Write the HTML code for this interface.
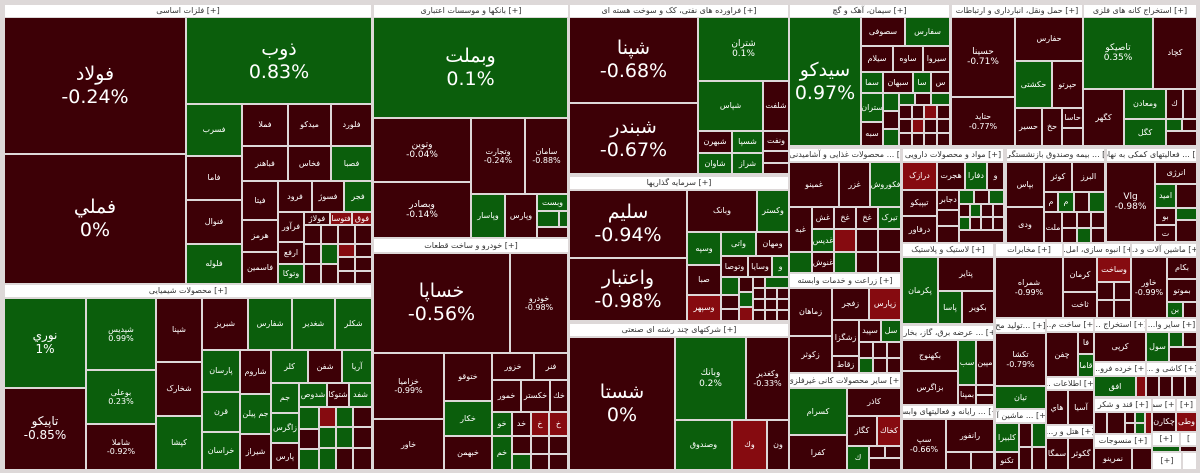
<!DOCTYPE html>
<html><head><meta charset="utf-8">
<style>
body{margin:0;width:1200px;height:473px;background:#fff;overflow:hidden}
#m{position:absolute;left:0;top:0;width:1200px;height:473px;background:#ddd8d8}
.t{position:absolute;box-sizing:border-box;border:1px solid #ddd8d8;color:#fff;display:flex;align-items:center;justify-content:center;text-align:center;font-family:"DejaVu Sans","Liberation Sans",sans-serif;font-size:8px;line-height:1.15;overflow:hidden;white-space:nowrap}
.r{background:#3d0006}.g{background:#0b5e0c}.b{background:#860b10}
.h{background:#fff;color:#333;font-size:8px;border:1px solid #ddd8d8}
.L{font-size:19px;line-height:1.2}.M{font-size:12px}.S{font-size:9px}
</style></head><body><div id="m">
<!-- sector 1 -->
<div class="t h" style="left:4px;top:4px;width:368px;height:14px">فلزات اساسی [+]</div>
<div class="t r L" style="left:4px;top:17px;width:182px;height:137px">فولاد<br>-0.24%</div>
<div class="t r L" style="left:4px;top:154px;width:182px;height:130px">فملي<br>0%</div>
<div class="t g L" style="left:186px;top:17px;width:186px;height:87px">ذوب<br>0.83%</div>
<div class="t g" style="left:186px;top:104px;width:56px;height:52px">فسرب</div>
<div class="t r" style="left:186px;top:156px;width:56px;height:44px">فاما</div>
<div class="t r" style="left:186px;top:200px;width:56px;height:44px">فنوال</div>
<div class="t g" style="left:186px;top:244px;width:56px;height:40px">فلوله</div>
<div class="t r" style="left:242px;top:104px;width:46px;height:42px">فملا</div>
<div class="t r" style="left:288px;top:104px;width:43px;height:42px">میدکو</div>
<div class="t r" style="left:331px;top:104px;width:41px;height:42px">فلورد</div>
<div class="t r" style="left:242px;top:146px;width:46px;height:35px">فباهنر</div>
<div class="t r" style="left:288px;top:146px;width:43px;height:35px">فخاس</div>
<div class="t g" style="left:331px;top:146px;width:41px;height:35px">فصبا</div>
<div class="t r" style="left:242px;top:181px;width:36px;height:39px">فیتا</div>
<div class="t r" style="left:278px;top:181px;width:34px;height:31px">فرود</div>
<div class="t r" style="left:312px;top:181px;width:32px;height:31px">فسوژ</div>
<div class="t g" style="left:344px;top:181px;width:28px;height:31px">فجر</div>
<div class="t r" style="left:242px;top:220px;width:36px;height:32px">هرمز</div>
<div class="t r" style="left:242px;top:252px;width:36px;height:32px">فاسمین</div>
<div class="t r" style="left:278px;top:212px;width:26px;height:30px">فرآور</div>
<div class="t r" style="left:304px;top:212px;width:26px;height:13px">فولاژ</div>
<div class="t b" style="left:330px;top:212px;width:22px;height:13px">فتوسا</div>
<div class="t b" style="left:352px;top:212px;width:20px;height:13px">فوق</div>
<div class="t r" style="left:278px;top:242px;width:26px;height:22px">ارفع</div>
<div class="t g" style="left:278px;top:264px;width:26px;height:20px">وتوکا</div>
<div class="t r" style="left:304px;top:225px;width:17px;height:19px"></div>
<div class="t r" style="left:304px;top:244px;width:17px;height:20px"></div>
<div class="t r" style="left:304px;top:264px;width:17px;height:20px"></div>
<div class="t r" style="left:321px;top:225px;width:17px;height:19px"></div>
<div class="t g" style="left:321px;top:244px;width:17px;height:20px"></div>
<div class="t r" style="left:321px;top:264px;width:17px;height:20px"></div>
<div class="t r" style="left:338px;top:225px;width:17px;height:19px"></div>
<div class="t b" style="left:338px;top:244px;width:17px;height:13px"></div>
<div class="t r" style="left:338px;top:257px;width:17px;height:14px"></div>
<div class="t r" style="left:338px;top:271px;width:17px;height:13px"></div>
<div class="t r" style="left:355px;top:225px;width:17px;height:19px"></div>
<div class="t r" style="left:355px;top:244px;width:17px;height:13px"></div>
<div class="t r" style="left:355px;top:257px;width:17px;height:14px"></div>
<div class="t r" style="left:355px;top:271px;width:17px;height:13px"></div>
<!-- sector 2 -->
<div class="t h" style="left:4px;top:284px;width:368px;height:14px">محصولات شیمیایی [+]</div>
<div class="t g M" style="left:4px;top:298px;width:82px;height:90px">نوري<br>1%</div>
<div class="t r M" style="left:4px;top:388px;width:82px;height:82px">تاپيكو<br>-0.85%</div>
<div class="t g" style="left:86px;top:298px;width:70px;height:72px">شپديس<br>0.99%</div>
<div class="t g" style="left:86px;top:370px;width:70px;height:54px">بوعلی<br>0.23%</div>
<div class="t r" style="left:86px;top:424px;width:70px;height:46px">شاملا<br>-0.92%</div>
<div class="t r" style="left:156px;top:298px;width:46px;height:64px">شپنا</div>
<div class="t r" style="left:156px;top:362px;width:46px;height:54px">شخارک</div>
<div class="t g" style="left:156px;top:416px;width:46px;height:54px">کپشا</div>
<div class="t r" style="left:202px;top:298px;width:46px;height:52px">شبریز</div>
<div class="t g" style="left:248px;top:298px;width:44px;height:52px">شفارس</div>
<div class="t g" style="left:292px;top:298px;width:43px;height:52px">شغدیر</div>
<div class="t g" style="left:335px;top:298px;width:37px;height:52px">شکلر</div>
<div class="t g" style="left:202px;top:350px;width:38px;height:42px">پارسان</div>
<div class="t g" style="left:202px;top:392px;width:38px;height:40px">قرن</div>
<div class="t g" style="left:202px;top:432px;width:38px;height:38px">خراسان</div>
<div class="t r" style="left:240px;top:350px;width:31px;height:44px">شاروم</div>
<div class="t g" style="left:240px;top:394px;width:31px;height:40px">جم پیلن</div>
<div class="t r" style="left:240px;top:434px;width:31px;height:36px">شیراز</div>
<div class="t g" style="left:271px;top:350px;width:37px;height:33px">کلر</div>
<div class="t r" style="left:308px;top:350px;width:34px;height:33px">شفن</div>
<div class="t g" style="left:342px;top:350px;width:30px;height:33px">آریا</div>
<div class="t g" style="left:271px;top:383px;width:28px;height:30px">جم</div>
<div class="t g" style="left:299px;top:383px;width:28px;height:24px">شدوص</div>
<div class="t r" style="left:327px;top:383px;width:22px;height:24px">شتوکا</div>
<div class="t g" style="left:349px;top:383px;width:23px;height:24px">شفد</div>
<div class="t g" style="left:271px;top:413px;width:28px;height:30px">زاگرس</div>
<div class="t r" style="left:271px;top:443px;width:28px;height:27px">پارس</div>
<div class="t g" style="left:299px;top:407px;width:20px;height:22px"></div>
<div class="t r" style="left:299px;top:429px;width:20px;height:20px"></div>
<div class="t g" style="left:299px;top:449px;width:20px;height:21px"></div>
<div class="t b" style="left:319px;top:407px;width:17px;height:20px"></div>
<div class="t g" style="left:336px;top:407px;width:17px;height:20px"></div>
<div class="t r" style="left:353px;top:407px;width:19px;height:20px"></div>
<div class="t g" style="left:319px;top:427px;width:17px;height:21px"></div>
<div class="t g" style="left:336px;top:427px;width:17px;height:21px"></div>
<div class="t r" style="left:353px;top:427px;width:19px;height:21px"></div>
<div class="t g" style="left:319px;top:448px;width:17px;height:22px"></div>
<div class="t r" style="left:336px;top:448px;width:17px;height:22px"></div>
<div class="t r" style="left:353px;top:448px;width:19px;height:22px"></div>
<!-- sector 3 banks -->
<div class="t h" style="left:373px;top:4px;width:196px;height:14px">بانکها و موسسات اعتباری [+]</div>
<div class="t g L" style="left:373px;top:17px;width:195px;height:101px">وبملت<br>0.1%</div>
<div class="t r S" style="left:373px;top:118px;width:98px;height:64px">وتوین<br>-0.04%</div>
<div class="t r S" style="left:373px;top:182px;width:98px;height:56px">وبصادر<br>-0.14%</div>
<div class="t r" style="left:471px;top:118px;width:54px;height:76px">وتجارت<br>-0.24%</div>
<div class="t r" style="left:525px;top:118px;width:43px;height:76px">سامان<br>-0.88%</div>
<div class="t g" style="left:471px;top:194px;width:34px;height:44px">وپاسار</div>
<div class="t r" style="left:505px;top:194px;width:32px;height:44px">وپارس</div>
<div class="t g" style="left:537px;top:194px;width:31px;height:17px">وبست</div>
<div class="t g" style="left:537px;top:211px;width:22px;height:16px"></div>
<div class="t g" style="left:559px;top:211px;width:9px;height:16px"></div>
<div class="t r" style="left:537px;top:227px;width:31px;height:11px"></div>
<!-- sector 4 auto -->
<div class="t h" style="left:373px;top:238px;width:196px;height:15px">خودرو و ساخت قطعات [+]</div>
<div class="t r L" style="left:373px;top:253px;width:137px;height:100px">خساپا<br>-0.56%</div>
<div class="t r" style="left:510px;top:253px;width:58px;height:100px">خودرو<br>-0.98%</div>
<div class="t r" style="left:373px;top:353px;width:71px;height:66px">خزامیا<br>-0.99%</div>
<div class="t r" style="left:373px;top:419px;width:71px;height:51px">خاور</div>
<div class="t r" style="left:444px;top:353px;width:48px;height:48px">ختوقو</div>
<div class="t g" style="left:444px;top:401px;width:48px;height:35px">خکار</div>
<div class="t r" style="left:444px;top:436px;width:48px;height:34px">خبهمن</div>
<div class="t r" style="left:492px;top:353px;width:42px;height:27px">خزور</div>
<div class="t r" style="left:534px;top:353px;width:34px;height:27px">فنر</div>
<div class="t r" style="left:492px;top:380px;width:29px;height:32px">خمور</div>
<div class="t r" style="left:521px;top:380px;width:29px;height:32px">خکستر</div>
<div class="t r" style="left:550px;top:380px;width:18px;height:32px">خك</div>
<div class="t g" style="left:492px;top:412px;width:20px;height:24px">خو</div>
<div class="t r" style="left:512px;top:412px;width:19px;height:24px">خد</div>
<div class="t b" style="left:531px;top:412px;width:18px;height:24px">خ</div>
<div class="t b" style="left:549px;top:412px;width:19px;height:24px">خ</div>
<div class="t g" style="left:492px;top:436px;width:20px;height:34px">خم</div>
<div class="t r" style="left:512px;top:436px;width:19px;height:18px"></div>
<div class="t r" style="left:531px;top:436px;width:18px;height:18px"></div>
<div class="t r" style="left:549px;top:436px;width:19px;height:18px"></div>
<div class="t g" style="left:512px;top:454px;width:19px;height:16px"></div>
<div class="t r" style="left:531px;top:454px;width:18px;height:16px"></div>
<div class="t r" style="left:549px;top:454px;width:19px;height:16px"></div>
<!-- sector 5 -->
<div class="t h" style="left:569px;top:4px;width:220px;height:14px">فراورده های نفتی، کک و سوخت هسته ای [+]</div>
<div class="t r L" style="left:569px;top:17px;width:129px;height:86px">شپنا<br>-0.68%</div>
<div class="t r L" style="left:569px;top:103px;width:129px;height:71px">شبندر<br>-0.67%</div>
<div class="t g S" style="left:698px;top:17px;width:91px;height:64px">شتران<br>0.1%</div>
<div class="t g" style="left:698px;top:81px;width:65px;height:50px">شپاس</div>
<div class="t r" style="left:763px;top:81px;width:26px;height:50px">شلفت</div>
<div class="t r" style="left:698px;top:131px;width:34px;height:22px">شبهرن</div>
<div class="t g" style="left:732px;top:131px;width:31px;height:22px">شسپا</div>
<div class="t r" style="left:763px;top:131px;width:26px;height:20px">ونفت</div>
<div class="t g" style="left:698px;top:153px;width:34px;height:21px">شاوان</div>
<div class="t g" style="left:732px;top:153px;width:31px;height:21px">شراز</div>
<div class="t r" style="left:763px;top:151px;width:26px;height:12px"></div>
<div class="t r" style="left:763px;top:163px;width:26px;height:11px"></div>
<!-- sector 6 -->
<div class="t h" style="left:569px;top:176px;width:220px;height:14px">سرمایه گذاریها [+]</div>
<div class="t r L" style="left:569px;top:190px;width:118px;height:68px">سلیم<br>-0.94%</div>
<div class="t r L" style="left:569px;top:258px;width:118px;height:63px">واعتبار<br>-0.98%</div>
<div class="t r" style="left:687px;top:190px;width:70px;height:42px">وبانک</div>
<div class="t g" style="left:757px;top:190px;width:32px;height:42px">وکستر</div>
<div class="t g" style="left:687px;top:232px;width:34px;height:33px">وسپه</div>
<div class="t g" style="left:721px;top:232px;width:35px;height:24px">واتی</div>
<div class="t r" style="left:756px;top:232px;width:33px;height:24px">ومهان</div>
<div class="t r" style="left:721px;top:256px;width:27px;height:21px">وتوصا</div>
<div class="t r" style="left:748px;top:256px;width:24px;height:21px">وسایا</div>
<div class="t g" style="left:772px;top:256px;width:17px;height:21px">و</div>
<div class="t r" style="left:687px;top:265px;width:34px;height:30px">صبا</div>
<div class="t b" style="left:687px;top:295px;width:34px;height:26px">وسپهر</div>
<div class="t g" style="left:721px;top:277px;width:18px;height:18px"></div>
<div class="t r" style="left:721px;top:295px;width:18px;height:14px"></div>
<div class="t r" style="left:721px;top:309px;width:18px;height:12px"></div>
<div class="t r" style="left:739px;top:277px;width:14px;height:15px"></div>
<div class="t g" style="left:739px;top:292px;width:14px;height:15px"></div>
<div class="t b" style="left:739px;top:307px;width:14px;height:14px"></div>
<div class="t r" style="left:753px;top:277px;width:12px;height:11px"></div>
<div class="t g" style="left:765px;top:277px;width:24px;height:11px"></div>
<div class="t r" style="left:753px;top:288px;width:12px;height:11px"></div>
<div class="t r" style="left:765px;top:288px;width:12px;height:11px"></div>
<div class="t r" style="left:777px;top:288px;width:12px;height:11px"></div>
<div class="t r" style="left:753px;top:299px;width:12px;height:11px"></div>
<div class="t r" style="left:765px;top:299px;width:12px;height:11px"></div>
<div class="t r" style="left:777px;top:299px;width:12px;height:11px"></div>
<div class="t r" style="left:753px;top:310px;width:12px;height:11px"></div>
<div class="t r" style="left:765px;top:310px;width:12px;height:11px"></div>
<div class="t r" style="left:777px;top:310px;width:12px;height:11px"></div>
<!-- sector 7 -->
<div class="t h" style="left:569px;top:323px;width:220px;height:14px">شرکتهای چند رشته ای صنعتی [+]</div>
<div class="t r L" style="left:569px;top:337px;width:106px;height:133px">شستا<br>0%</div>
<div class="t g S" style="left:675px;top:337px;width:71px;height:83px">وبانك<br>0.2%</div>
<div class="t r" style="left:746px;top:337px;width:43px;height:83px">وکغدیر<br>-0.33%</div>
<div class="t g" style="left:675px;top:420px;width:57px;height:50px">وصندوق</div>
<div class="t b" style="left:732px;top:420px;width:35px;height:50px">وك</div>
<div class="t r" style="left:767px;top:420px;width:22px;height:50px">ون</div>
<!-- sector 8 cement -->
<div class="t h" style="left:789px;top:4px;width:161px;height:14px">سیمان، آهک و گچ [+]</div>
<div class="t g L" style="left:789px;top:17px;width:72px;height:129px">سیدکو<br>0.97%</div>
<div class="t r" style="left:861px;top:17px;width:44px;height:29px">سصوفی</div>
<div class="t g" style="left:905px;top:17px;width:45px;height:29px">سفارس</div>
<div class="t r" style="left:861px;top:46px;width:32px;height:26px">سیلام</div>
<div class="t r" style="left:893px;top:46px;width:30px;height:26px">ساوه</div>
<div class="t r" style="left:923px;top:46px;width:27px;height:26px">سیروا</div>
<div class="t g" style="left:861px;top:72px;width:22px;height:21px">سما</div>
<div class="t r" style="left:883px;top:72px;width:30px;height:21px">سبهان</div>
<div class="t g" style="left:913px;top:72px;width:18px;height:21px">سا</div>
<div class="t r" style="left:931px;top:72px;width:19px;height:21px">س</div>
<div class="t g" style="left:861px;top:93px;width:22px;height:29px">ستران</div>
<div class="t r" style="left:861px;top:122px;width:22px;height:24px">سبه</div>
<div class="t g" style="left:883px;top:93px;width:16px;height:18px"></div>
<div class="t g" style="left:899px;top:93px;width:16px;height:12px"></div>
<div class="t r" style="left:915px;top:93px;width:16px;height:12px"></div>
<div class="t g" style="left:931px;top:93px;width:19px;height:12px"></div>
<div class="t r" style="left:883px;top:111px;width:16px;height:18px"></div>
<div class="t g" style="left:883px;top:129px;width:16px;height:17px"></div>
<div class="t r" style="left:899px;top:105px;width:13px;height:14px"></div>
<div class="t r" style="left:912px;top:105px;width:12px;height:14px"></div>
<div class="t b" style="left:924px;top:105px;width:13px;height:14px"></div>
<div class="t r" style="left:937px;top:105px;width:13px;height:14px"></div>
<div class="t r" style="left:899px;top:119px;width:13px;height:14px"></div>
<div class="t b" style="left:912px;top:119px;width:12px;height:14px"></div>
<div class="t r" style="left:924px;top:119px;width:13px;height:14px"></div>
<div class="t r" style="left:937px;top:119px;width:13px;height:14px"></div>
<div class="t r" style="left:899px;top:133px;width:13px;height:13px"></div>
<div class="t r" style="left:912px;top:133px;width:12px;height:13px"></div>
<div class="t r" style="left:924px;top:133px;width:13px;height:13px"></div>
<div class="t r" style="left:937px;top:133px;width:13px;height:13px"></div>
<!-- sector 9 transport -->
<div class="t h" style="left:951px;top:4px;width:132px;height:14px">حمل ونقل، انبارداری و ارتباطات [+]</div>
<div class="t r S" style="left:951px;top:17px;width:64px;height:80px">حسینا<br>-0.71%</div>
<div class="t r" style="left:951px;top:97px;width:64px;height:49px">حتاید<br>-0.77%</div>
<div class="t r" style="left:1015px;top:17px;width:68px;height:44px">حفارس</div>
<div class="t g" style="left:1015px;top:61px;width:37px;height:47px">حکشتی</div>
<div class="t r" style="left:1052px;top:61px;width:31px;height:47px">حپرتو</div>
<div class="t r" style="left:1015px;top:108px;width:27px;height:38px">حسیر</div>
<div class="t r" style="left:1042px;top:108px;width:20px;height:38px">حخ</div>
<div class="t r" style="left:1062px;top:108px;width:21px;height:20px">حاسا</div>
<div class="t r" style="left:1062px;top:128px;width:21px;height:18px"></div>
<!-- sector 10 -->
<div class="t h" style="left:1083px;top:4px;width:114px;height:14px">استخراج کانه های فلزی [+]</div>
<div class="t g S" style="left:1083px;top:17px;width:70px;height:72px">تاصیکو<br>0.35%</div>
<div class="t r" style="left:1153px;top:17px;width:44px;height:72px">کچاد</div>
<div class="t r" style="left:1083px;top:89px;width:41px;height:57px">کگهر</div>
<div class="t g" style="left:1124px;top:89px;width:42px;height:30px">ومعادن</div>
<div class="t g" style="left:1124px;top:119px;width:42px;height:27px">کگل</div>
<div class="t r" style="left:1166px;top:89px;width:17px;height:30px">ك</div>
<div class="t r" style="left:1183px;top:89px;width:14px;height:30px"></div>
<div class="t g" style="left:1166px;top:119px;width:16px;height:12px"></div>
<div class="t r" style="left:1182px;top:119px;width:15px;height:12px"></div>
<div class="t r" style="left:1166px;top:131px;width:31px;height:15px"></div>
<!-- food -->
<div class="t h" style="left:789px;top:148px;width:112px;height:14px">محصولات غذایی و آشامیدنی به ... [+]</div>
<div class="t r" style="left:789px;top:162px;width:50px;height:45px">غمینو</div>
<div class="t r" style="left:839px;top:162px;width:31px;height:45px">غزر</div>
<div class="t g" style="left:870px;top:162px;width:31px;height:45px">فکوروش</div>
<div class="t r" style="left:789px;top:207px;width:23px;height:45px">غبه</div>
<div class="t r" style="left:812px;top:207px;width:22px;height:22px">غش</div>
<div class="t r" style="left:834px;top:207px;width:22px;height:22px">غخ</div>
<div class="t r" style="left:856px;top:207px;width:22px;height:22px">غخ</div>
<div class="t g" style="left:878px;top:207px;width:23px;height:22px">تیرک</div>
<div class="t g" style="left:812px;top:229px;width:22px;height:23px">غدیس</div>
<div class="t b" style="left:834px;top:229px;width:22px;height:23px"></div>
<div class="t r" style="left:856px;top:229px;width:22px;height:23px"></div>
<div class="t r" style="left:878px;top:229px;width:23px;height:23px"></div>
<div class="t g" style="left:789px;top:252px;width:23px;height:21px"></div>
<div class="t r" style="left:812px;top:252px;width:22px;height:21px">غنوش</div>
<div class="t g" style="left:834px;top:252px;width:22px;height:21px"></div>
<div class="t r" style="left:856px;top:252px;width:22px;height:21px"></div>
<div class="t r" style="left:878px;top:252px;width:23px;height:21px"></div>
<!-- pharma -->
<div class="t h" style="left:902px;top:148px;width:102px;height:14px">مواد و محصولات دارویی [+]</div>
<div class="t b" style="left:902px;top:162px;width:35px;height:28px">درازک</div>
<div class="t r" style="left:937px;top:162px;width:28px;height:28px">هجرت</div>
<div class="t g" style="left:965px;top:162px;width:22px;height:28px">دفارا</div>
<div class="t r" style="left:987px;top:162px;width:17px;height:28px">و</div>
<div class="t r" style="left:902px;top:190px;width:35px;height:26px">تیپیکو</div>
<div class="t r" style="left:902px;top:216px;width:35px;height:27px">درفاور</div>
<div class="t r" style="left:937px;top:190px;width:22px;height:20px">دجابر</div>
<div class="t g" style="left:959px;top:190px;width:15px;height:14px"></div>
<div class="t r" style="left:974px;top:190px;width:15px;height:14px"></div>
<div class="t g" style="left:989px;top:190px;width:15px;height:14px"></div>
<div class="t r" style="left:937px;top:210px;width:22px;height:16px"></div>
<div class="t r" style="left:937px;top:226px;width:22px;height:17px"></div>
<div class="t r" style="left:959px;top:204px;width:11px;height:13px"></div>
<div class="t g" style="left:970px;top:204px;width:11px;height:13px"></div>
<div class="t r" style="left:981px;top:204px;width:12px;height:13px"></div>
<div class="t r" style="left:993px;top:204px;width:11px;height:13px"></div>
<div class="t g" style="left:959px;top:217px;width:11px;height:13px"></div>
<div class="t r" style="left:970px;top:217px;width:11px;height:13px"></div>
<div class="t r" style="left:981px;top:217px;width:12px;height:13px"></div>
<div class="t r" style="left:993px;top:217px;width:11px;height:13px"></div>
<div class="t r" style="left:959px;top:230px;width:45px;height:13px"></div>
<!-- insurance -->
<div class="t h" style="left:1006px;top:148px;width:99px;height:14px">بیمه وصندوق بازنشستگی به ... [+]</div>
<div class="t r" style="left:1006px;top:162px;width:38px;height:45px">بپاس</div>
<div class="t r" style="left:1044px;top:162px;width:28px;height:30px">کوثر</div>
<div class="t r" style="left:1072px;top:162px;width:33px;height:30px">البرز</div>
<div class="t r" style="left:1006px;top:207px;width:38px;height:36px">ودی</div>
<div class="t r" style="left:1044px;top:192px;width:14px;height:20px">م</div>
<div class="t g" style="left:1058px;top:192px;width:16px;height:20px">م</div>
<div class="t r" style="left:1074px;top:192px;width:15px;height:20px"></div>
<div class="t g" style="left:1089px;top:192px;width:16px;height:20px"></div>
<div class="t r" style="left:1044px;top:212px;width:18px;height:31px">ملت</div>
<div class="t r" style="left:1062px;top:212px;width:15px;height:16px"></div>
<div class="t r" style="left:1077px;top:212px;width:14px;height:16px"></div>
<div class="t r" style="left:1091px;top:212px;width:14px;height:16px"></div>
<div class="t r" style="left:1062px;top:228px;width:15px;height:15px"></div>
<div class="t g" style="left:1077px;top:228px;width:14px;height:15px"></div>
<div class="t r" style="left:1091px;top:228px;width:14px;height:15px"></div>
<!-- support -->
<div class="t h" style="left:1106px;top:148px;width:91px;height:14px">فعالیتهای کمکی به نهادها ... [+]</div>
<div class="t r S" style="left:1106px;top:162px;width:49px;height:80px">Vlg<br>-0.98%</div>
<div class="t r" style="left:1155px;top:162px;width:42px;height:22px">انرژی</div>
<div class="t g" style="left:1155px;top:184px;width:21px;height:24px">امید</div>
<div class="t r" style="left:1176px;top:184px;width:21px;height:24px"></div>
<div class="t r" style="left:1155px;top:208px;width:21px;height:17px">بو</div>
<div class="t g" style="left:1176px;top:208px;width:21px;height:12px"></div>
<div class="t r" style="left:1176px;top:220px;width:21px;height:22px"></div>
<div class="t r" style="left:1155px;top:225px;width:21px;height:17px">ت</div>
<!-- farming -->
<div class="t h" style="left:789px;top:273px;width:112px;height:15px">زراعت و خدمات وابسته [+]</div>
<div class="t r" style="left:789px;top:288px;width:43px;height:48px">زماهان</div>
<div class="t r" style="left:789px;top:336px;width:43px;height:37px">زکوثر</div>
<div class="t r" style="left:832px;top:288px;width:37px;height:32px">زفجر</div>
<div class="t b" style="left:869px;top:288px;width:32px;height:32px">زپارس</div>
<div class="t r" style="left:832px;top:320px;width:27px;height:36px">زشگزا</div>
<div class="t r" style="left:832px;top:356px;width:27px;height:17px">زقاط</div>
<div class="t r" style="left:859px;top:320px;width:22px;height:22px">سپید</div>
<div class="t g" style="left:881px;top:320px;width:20px;height:22px">سل</div>
<div class="t r" style="left:859px;top:342px;width:14px;height:16px"></div>
<div class="t r" style="left:873px;top:342px;width:14px;height:16px"></div>
<div class="t r" style="left:887px;top:342px;width:14px;height:16px"></div>
<div class="t g" style="left:859px;top:358px;width:14px;height:15px"></div>
<div class="t r" style="left:873px;top:358px;width:14px;height:15px"></div>
<div class="t r" style="left:887px;top:358px;width:14px;height:15px"></div>
<!-- non-metal -->
<div class="t h" style="left:789px;top:373px;width:112px;height:15px">سایر محصولات کانی غیرفلزی [+]</div>
<div class="t g" style="left:789px;top:388px;width:58px;height:47px">کسرام</div>
<div class="t r" style="left:789px;top:435px;width:58px;height:35px">کفرا</div>
<div class="t r" style="left:847px;top:388px;width:54px;height:28px">کاذر</div>
<div class="t r" style="left:847px;top:416px;width:30px;height:30px">کگاز</div>
<div class="t b" style="left:877px;top:416px;width:24px;height:30px">کخاك</div>
<div class="t g" style="left:847px;top:446px;width:22px;height:24px">ك</div>
<div class="t r" style="left:869px;top:446px;width:16px;height:12px"></div>
<div class="t r" style="left:885px;top:446px;width:16px;height:12px"></div>
<div class="t r" style="left:869px;top:458px;width:32px;height:12px"></div>
<!-- rubber -->
<div class="t h" style="left:902px;top:243px;width:92px;height:14px">لاستیک و پلاستیک [+]</div>
<div class="t g" style="left:902px;top:257px;width:36px;height:67px">پکرمان</div>
<div class="t r" style="left:938px;top:257px;width:56px;height:34px">پتایر</div>
<div class="t g" style="left:938px;top:291px;width:24px;height:33px">پاسا</div>
<div class="t r" style="left:962px;top:291px;width:32px;height:33px">بکویر</div>
<!-- power -->
<div class="t h" style="left:902px;top:325px;width:92px;height:15px">عرضه برق، گاز، بخاروآ ... [+]</div>
<div class="t r" style="left:902px;top:340px;width:56px;height:31px">بکهنوج</div>
<div class="t r" style="left:902px;top:371px;width:56px;height:34px">بزاگرس</div>
<div class="t g" style="left:958px;top:340px;width:18px;height:45px">سب</div>
<div class="t r" style="left:976px;top:340px;width:18px;height:45px">مپین</div>
<div class="t r" style="left:958px;top:385px;width:18px;height:20px">بمپنا</div>
<div class="t r" style="left:976px;top:385px;width:18px;height:10px"></div>
<div class="t r" style="left:976px;top:395px;width:18px;height:10px"></div>
<!-- IT -->
<div class="t h" style="left:902px;top:405px;width:92px;height:14px">رایانه و فعالیتهای وابسته ... [+]</div>
<div class="t r" style="left:902px;top:419px;width:44px;height:51px">سپ<br>-0.66%</div>
<div class="t r" style="left:946px;top:419px;width:48px;height:33px">رانفور</div>
<div class="t r" style="left:946px;top:452px;width:25px;height:18px"></div>
<div class="t r" style="left:971px;top:452px;width:23px;height:18px"></div>
<!-- telecom -->
<div class="t h" style="left:995px;top:243px;width:68px;height:14px">مخابرات [+]</div>
<div class="t r" style="left:995px;top:257px;width:68px;height:61px">شمراه<br>-0.99%</div>
<div class="t h" style="left:995px;top:318px;width:51px;height:15px">تولید مح... [+]</div>
<div class="t r" style="left:995px;top:333px;width:51px;height:53px">تکشا<br>-0.79%</div>
<div class="t g" style="left:995px;top:386px;width:51px;height:23px">تیان</div>
<div class="t h" style="left:995px;top:409px;width:51px;height:14px">ماشین آلا ... [+]</div>
<div class="t g" style="left:995px;top:423px;width:24px;height:29px">کلبیرا</div>
<div class="t r" style="left:995px;top:452px;width:24px;height:18px">تکنو</div>
<div class="t r" style="left:1019px;top:423px;width:13px;height:24px"></div>
<div class="t g" style="left:1032px;top:423px;width:14px;height:24px"></div>
<div class="t r" style="left:1019px;top:447px;width:13px;height:23px"></div>
<div class="t r" style="left:1032px;top:447px;width:14px;height:23px"></div>
<!-- construction -->
<div class="t h" style="left:1063px;top:243px;width:68px;height:14px">...انبوه سازی، امل [+]</div>
<div class="t r" style="left:1063px;top:257px;width:34px;height:35px">کرمان</div>
<div class="t b" style="left:1097px;top:257px;width:34px;height:25px">وساخت</div>
<div class="t r" style="left:1063px;top:292px;width:34px;height:26px">ثاخت</div>
<div class="t r" style="left:1097px;top:282px;width:17px;height:18px"></div>
<div class="t r" style="left:1114px;top:282px;width:17px;height:18px"></div>
<div class="t r" style="left:1097px;top:300px;width:17px;height:18px"></div>
<div class="t r" style="left:1114px;top:300px;width:17px;height:18px"></div>
<div class="t h" style="left:1131px;top:243px;width:66px;height:14px">...ماشین آلات و د [+]</div>
<div class="t r" style="left:1131px;top:257px;width:36px;height:61px">خاور<br>-0.99%</div>
<div class="t r" style="left:1167px;top:257px;width:30px;height:22px">بکام</div>
<div class="t r" style="left:1167px;top:279px;width:30px;height:23px">بموتو</div>
<div class="t g" style="left:1167px;top:302px;width:16px;height:16px">بن</div>
<div class="t r" style="left:1183px;top:302px;width:14px;height:16px"></div>
<!-- small sectors -->
<div class="t h" style="left:1046px;top:318px;width:48px;height:14px">...ساخت م [+]</div>
<div class="t r" style="left:1046px;top:332px;width:32px;height:45px">چفن</div>
<div class="t r" style="left:1078px;top:332px;width:16px;height:22px">فا</div>
<div class="t g" style="left:1078px;top:354px;width:16px;height:23px">قاما</div>
<div class="t h" style="left:1094px;top:318px;width:52px;height:14px">... استخراج [+]</div>
<div class="t r" style="left:1094px;top:332px;width:52px;height:30px">کرپی</div>
<div class="t h" style="left:1146px;top:318px;width:51px;height:14px">...سایر وا [+]</div>
<div class="t g" style="left:1146px;top:332px;width:23px;height:30px">سول</div>
<div class="t g" style="left:1169px;top:332px;width:14px;height:15px"></div>
<div class="t r" style="left:1183px;top:332px;width:14px;height:15px"></div>
<div class="t r" style="left:1169px;top:347px;width:28px;height:15px"></div>
<div class="t h" style="left:1094px;top:362px;width:52px;height:14px">...خرده فرو [+]</div>
<div class="t g" style="left:1094px;top:376px;width:42px;height:21px">افق</div>
<div class="t b" style="left:1136px;top:376px;width:10px;height:21px"></div>
<div class="t h" style="left:1146px;top:362px;width:51px;height:14px">... کاشی و [+]</div>
<div class="t r" style="left:1146px;top:376px;width:13px;height:21px"></div>
<div class="t r" style="left:1159px;top:376px;width:13px;height:21px"></div>
<div class="t r" style="left:1172px;top:376px;width:13px;height:21px"></div>
<div class="t r" style="left:1185px;top:376px;width:12px;height:21px"></div>
<div class="t h" style="left:1046px;top:377px;width:48px;height:13px">... اطلاعات [+]</div>
<div class="t r" style="left:1046px;top:390px;width:22px;height:35px">هاي</div>
<div class="t r" style="left:1068px;top:390px;width:26px;height:35px">آسیا</div>
<div class="t h" style="left:1046px;top:425px;width:48px;height:13px">...هتل و ر [+]</div>
<div class="t r" style="left:1046px;top:438px;width:22px;height:32px">سمگا</div>
<div class="t r" style="left:1068px;top:438px;width:26px;height:32px">گکوثر</div>
<div class="t h" style="left:1094px;top:398px;width:58px;height:14px">قند و شکر [+]</div>
<div class="t r" style="left:1094px;top:412px;width:13px;height:22px"></div>
<div class="t r" style="left:1107px;top:412px;width:18px;height:22px"></div>
<div class="t r" style="left:1125px;top:412px;width:10px;height:11px"></div>
<div class="t g" style="left:1135px;top:412px;width:10px;height:11px"></div>
<div class="t b" style="left:1145px;top:412px;width:7px;height:22px"></div>
<div class="t r" style="left:1125px;top:423px;width:10px;height:11px"></div>
<div class="t g" style="left:1135px;top:423px;width:10px;height:11px"></div>
<div class="t h" style="left:1152px;top:398px;width:24px;height:14px">سم [+]</div>
<div class="t r" style="left:1152px;top:412px;width:24px;height:20px">چکارن</div>
<div class="t h" style="left:1176px;top:398px;width:21px;height:14px">[+]</div>
<div class="t b" style="left:1176px;top:412px;width:21px;height:20px">وطی</div>
<div class="t h" style="left:1094px;top:434px;width:58px;height:14px">منسوجات [+]</div>
<div class="t r" style="left:1094px;top:448px;width:38px;height:22px">نمرینو</div>
<div class="t r" style="left:1132px;top:448px;width:20px;height:22px"></div>
<div class="t h" style="left:1152px;top:432px;width:28px;height:14px">[+]</div>
<div class="t g" style="left:1152px;top:446px;width:28px;height:6px"></div>
<div class="t h" style="left:1180px;top:432px;width:17px;height:14px">[</div>
<div class="t r" style="left:1180px;top:446px;width:17px;height:6px"></div>
<div class="t h" style="left:1152px;top:452px;width:30px;height:18px">[+]</div>
<div class="t h" style="left:1182px;top:452px;width:15px;height:18px"></div>
</div></body></html>
